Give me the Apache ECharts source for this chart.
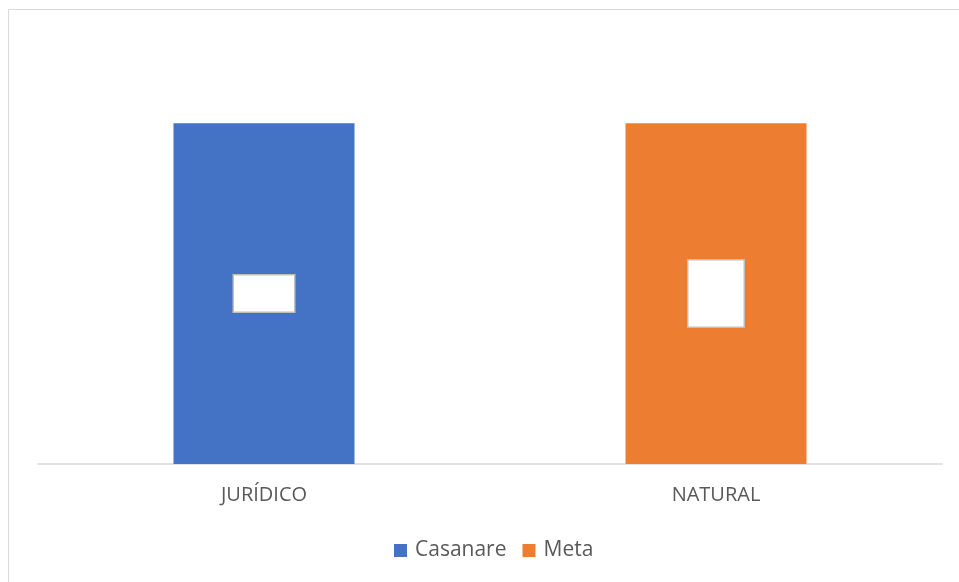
<!DOCTYPE html>
<html><head><meta charset="utf-8">
<script src="https://cdn.jsdelivr.net/npm/echarts@6/dist/echarts.min.js"></script>
<style>html,body{margin:0;padding:0;background:#fff}#c{width:959px;height:582px}</style>
</head><body><div id="c"></div>
<script>
const categories = ['JURÍDICO', 'NATURAL'];
const seriesNames = ['Casanare', 'Meta'];
const casanare = [1, null];
const meta = [null, 1];

const colors = ['#4472C4', '#ED7D31'];
const boxSizes = [[60, 36], [55, 66]];

function mk(name, vals, color, box) {
  return {
    name: name, type: 'bar', barWidth: 181, barGap: '-100%',
    itemStyle: { color: color },
    data: vals.map(v => v == null ? null : { value: v }),
    label: {
      show: true, position: 'inside', formatter: ' ',
      backgroundColor: '#ffffff', borderColor: '#bfbfbf', borderWidth: 1.5,
      width: box[0], height: box[1], padding: 0
    }
  };
}

const chart = echarts.init(document.getElementById('c'));
chart.setOption({
  animation: false,
  color: colors,
  graphic: [{ type: 'rect', shape: { x: 8.5, y: 9.5, width: 1000, height: 1000 },
    style: { fill: 'none', stroke: '#d9d9d9', lineWidth: 1 }, z: -1 }],
  grid: { left: 38, right: 17, top: 55, bottom: 118 },
  xAxis: { type: 'category', data: categories,
    axisLine: { lineStyle: { color: '#d9d9d9', width: 1.5 } }, axisTick: { show: false },
    axisLabel: { color: '#595959', fontSize: 20, fontFamily: 'Open Sans', margin: 21 } },
  yAxis: { type: 'value', min: 0, max: 1.2, show: false, splitLine: { show: false } },
  legend: { top: 535, left: 389, itemWidth: 13, itemHeight: 13, itemGap: 16,
    icon: 'rect', data: seriesNames,
    textStyle: { color: '#595959', fontSize: 21, fontFamily: 'Open Sans', padding: [0, 0, 0, 3] } },
  series: [mk(seriesNames[0], casanare, colors[0], boxSizes[0]),
           mk(seriesNames[1], meta, colors[1], boxSizes[1])]
});
</script></body></html>
